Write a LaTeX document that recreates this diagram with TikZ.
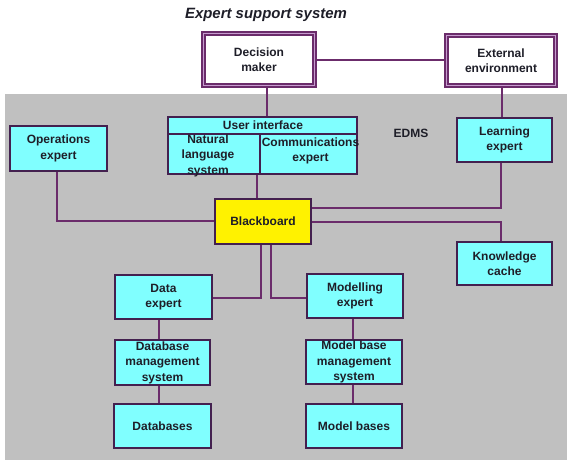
\documentclass[tikz,border=0pt]{standalone}
\usepackage{fontspec}
\setmainfont{Liberation Sans}
\definecolor{bgray}{HTML}{C0C0C0}
\definecolor{cyanfill}{HTML}{80FFFF}
\definecolor{boxedge}{HTML}{43204F}
\definecolor{conncol}{HTML}{6B2C6B}
\definecolor{dblin}{HTML}{C79BD0}
\definecolor{txt}{HTML}{1E1E28}
\begin{document}
\begin{tikzpicture}[x=0.75pt,y=-0.75pt,
  sz/.style 2 args={minimum width=#1*0.75pt, minimum height=#2*0.75pt},
  cbox/.style={draw=boxedge, line width=1.3pt, fill=cyanfill, inner sep=0pt, align=center,
     font=\bfseries\fontsize{9}{11.6}\selectfont, text=txt},
  ybox/.style={cbox, fill=yellow},
  dbox/.style={draw=conncol, double=dblin, double distance=1.4pt, line width=1.0pt, fill=white,
     inner sep=0pt, align=center, font=\bfseries\fontsize{9}{11.6}\selectfont, text=txt},
  lbl/.style={inner sep=0pt, align=center, font=\bfseries\fontsize{9}{11.6}\selectfont, text=txt},
  conn/.style={draw=conncol, line width=1.4pt}]
\useasboundingbox (0,0) rectangle (567,463);
\fill[bgray] (5,94) rectangle (567,460);

\node[font=\bfseries\itshape\fontsize{11.2}{13}\selectfont, text=txt, inner sep=0pt] (title) at (266,15) {Expert support system};

\node[dbox, sz={111}{52}] (DM) at (259,59.5) {Decision\\maker};
\node[dbox, sz={109}{50}] (EE) at (501,60.5) {External\\environment};

\node[cbox, sz={97}{45}] (OE) at (58.5,148.5) {Operations\\expert};
\node[cbox, sz={95}{44}] (LE) at (504.5,140) {Learning\\expert};
\node[cbox, sz={95}{43}] (KC) at (504.5,263.5) {Knowledge\\cache};
\node[ybox, sz={96}{45}] (BB) at (263,221.5) {Blackboard};
\node[cbox, sz={97}{44}] (DE) at (163.5,297) {Data\\expert};
\node[cbox, sz={96}{44}] (ME) at (355,296) {Modelling\\expert};
\node[cbox, sz={95}{45}] (DBMS) at (162.5,362.5) {Database\\management\\system};
\node[cbox, sz={96}{44}] (MBMS) at (354,362) {Model base\\management\\system};
\node[cbox, sz={97}{44}] (DB) at (162.5,426) {Databases};
\node[cbox, sz={96}{44}] (MB) at (354,426) {Model bases};

% User interface composite box
\node[cbox, sz={189}{57}] (UI) at (262.5,145.5) {};
\draw[draw=boxedge, line width=1.3pt] (UI.west |- 0,134) coordinate (uil) -- (UI.east |- 0,134) coordinate (uir);
\draw[draw=boxedge, line width=1.3pt] (260,134) coordinate (uimt) -- (UI.south -| 260,0) coordinate (uimb);
\node[lbl] (UIt) at (263,125) {User interface};
\node[lbl] (NLS) at (208,155.5) {Natural\\language\\system};
\node[lbl] (CE) at (310.5,151) {Communications\\expert};

\node[lbl] (EDMS) at (411,133) {EDMS};

% connectors
\draw[conn] (DM.east |- 0,60) -- (EE.west |- 0,60);
\draw[conn] (DM.south -| 267,0) -- (UI.north -| 267,0);
\draw[conn] (EE.south -| 502,0) -- (LE.north -| 502,0);
\draw[conn] (OE.south -| 57,0) |- (BB.west |- 0,221);
\draw[conn] (UI.south -| 257,0) -- (BB.north -| 257,0);
\draw[conn] (LE.south -| 501,0) |- (BB.east |- 0,208);
\draw[conn] (BB.east |- 0,222) -| (KC.north -| 501,0);
\draw[conn] (BB.south -| 261,0) |- (DE.east |- 0,298);
\draw[conn] (BB.south -| 271,0) |- (ME.west |- 0,298);
\draw[conn] (DE.south -| 159,0) -- (DBMS.north -| 159,0);
\draw[conn] (DBMS.south -| 159,0) -- (DB.north -| 159,0);
\draw[conn] (ME.south -| 353,0) -- (MBMS.north -| 353,0);
\draw[conn] (MBMS.south -| 353,0) -- (MB.north -| 353,0);
\end{tikzpicture}
\end{document}
